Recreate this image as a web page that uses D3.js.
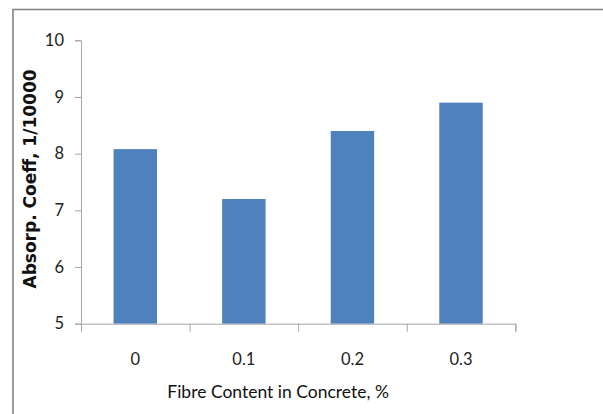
<!DOCTYPE html>
<html>
<head>
<meta charset="utf-8">
<script src="https://cdn.jsdelivr.net/npm/d3@7"></script>
<style>
  html, body { margin: 0; padding: 0; background: #fff; }
  svg { display: block; }
</style>
</head>
<body>
<svg id="chart" width="603" height="414"></svg>
<script>
// Fibre content categories and measured absorption coefficients
const categories = ["0", "0.1", "0.2", "0.3"];
const absorption = [8.08, 7.2, 8.4, 8.9];
const yTicks = [5, 6, 7, 8, 9, 10];

const svg = d3.select("#chart");

// Chart frame (open on the right and bottom edges)
svg.append("rect")
  .attr("x", 13).attr("y", 9.5)
  .attr("width", 620).attr("height", 430)
  .attr("fill", "none")
  .attr("stroke", "#858585")
  .attr("stroke-width", 1.6);

const plot = { left: 81, right: 515.3, top: 40.3, bottom: 323.7 };

const x = d3.scaleBand()
  .domain(categories)
  .range([plot.left, plot.right])
  .paddingInner(0.6)
  .paddingOuter(0.3);

const xEdges = d3.scaleLinear()
  .domain([0, categories.length])
  .range([plot.left, plot.right]);

const y = d3.scaleLinear()
  .domain([5, 10])
  .range([plot.bottom, plot.top]);

const axisColor = "#a6a6a6";
const textColor = "#222";
const labelFont = "Lato, 'Open Sans', sans-serif";

// Bars
svg.append("g")
  .selectAll("rect")
  .data(absorption)
  .join("rect")
  .attr("x", (d, i) => x(categories[i]))
  .attr("y", d => y(d))
  .attr("width", x.bandwidth())
  .attr("height", d => y(5) - y(d))
  .attr("fill", "#4f81bd");

// Y axis
const yAxis = svg.append("g")
  .attr("transform", `translate(${plot.left},0)`)
  .call(d3.axisLeft(y).tickValues(yTicks).tickSize(6).tickPadding(11).tickFormat(d3.format("d")));
yAxis.attr("font-family", labelFont).attr("font-size", 16.5);
yAxis.select(".domain").attr("stroke", axisColor);
yAxis.selectAll(".tick line").attr("stroke", axisColor);
yAxis.selectAll(".tick text").attr("fill", textColor);

// X axis: tick marks between categories
const xTickAxis = svg.append("g")
  .attr("transform", `translate(0,${plot.bottom})`)
  .call(d3.axisBottom(xEdges).tickValues(d3.range(categories.length + 1)).tickSize(8).tickFormat(""));
xTickAxis.select(".domain").attr("stroke", axisColor);
xTickAxis.selectAll(".tick line").attr("stroke", axisColor);

// X axis: category labels centred under bars
const xLabelAxis = svg.append("g")
  .attr("transform", `translate(0,${plot.bottom})`)
  .call(d3.axisBottom(x).tickSize(0).tickPadding(30));
xLabelAxis.attr("font-family", labelFont).attr("font-size", 16.5);
xLabelAxis.select(".domain").remove();
xLabelAxis.selectAll(".tick text").attr("fill", textColor);

// Axis titles
svg.append("text")
  .attr("x", (plot.left + plot.right) / 2 - 20)
  .attr("y", 394)
  .attr("text-anchor", "middle")
  .attr("dominant-baseline", "middle")
  .attr("fill", "#111")
  .attr("font-family", labelFont)
  .attr("font-size", 17.5)
  .text("Fibre Content in Concrete, %");

svg.append("text")
  .attr("transform", "translate(31,179) rotate(-90)")
  .attr("text-anchor", "middle")
  .attr("dominant-baseline", "middle")
  .attr("fill", "#111")
  .attr("font-family", "'DejaVu Sans', Verdana, sans-serif")
  .attr("font-weight", "bold")
  .attr("font-size", 17)
  .text("Absorp. Coeff, 1/10000");
</script>
</body>
</html>
